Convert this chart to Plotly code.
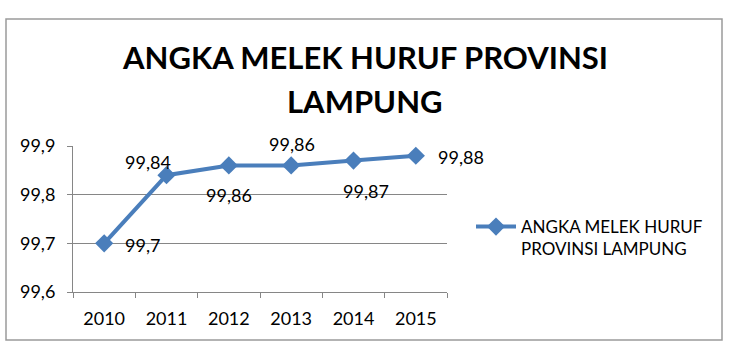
import plotly.graph_objects as go

years = ["2010", "2011", "2012", "2013", "2014", "2015"]
values = [99.70, 99.84, 99.86, 99.86, 99.87, 99.88]
labels = ["99,7", "99,84", "99,86", "99,86", "99,87", "99,88"]
series_name = "ANGKA MELEK HURUF<br>PROVINSI LAMPUNG"
title_lines = ["ANGKA MELEK HURUF PROVINSI", "LAMPUNG"]
y_ticks = [99.6, 99.7, 99.8, 99.9]

W, H = 729, 342
L, R, T, B = 73, 447, 146, 292  # plot area in pixels


def px(x, y):
    return (x - L) / (R - L), (B - y) / (B - T)


color = "#4A7EBB"
font = "Lato, Calibri, sans-serif"

fig = go.Figure()
fig.add_trace(go.Scatter(
    x=years, y=values, mode="lines+markers", name=series_name,
    line=dict(color=color, width=4),
    marker=dict(symbol="diamond", size=14, color=color),
))

# data labels (offsets in pixels relative to the point)
offsets = [(19, 2, "left"), (-19, -13, "center"), (0, 30, "center"),
           (1, -21, "center"), (12, 30, "center"), (20, 1, "left")]
for i, (v, lab, (dx, dy, anc)) in enumerate(zip(values, labels, offsets)):
    fig.add_annotation(x=i, y=v, xref="x", yref="y", text=lab, showarrow=False,
                       xanchor=anc, yanchor="middle", xshift=dx, yshift=-dy,
                       font=dict(family=font, size=18, color="#000"))

# title lines
for txt, yc in zip(title_lines, [57, 101]):
    ax, ay = px(365, yc)
    fig.add_annotation(x=ax, y=ay, xref="paper", yref="paper", text="<b>%s</b>" % txt,
                       showarrow=False, xanchor="center", yanchor="middle",
                       font=dict(family=font, size=31, color="#000"))

# outer frame
x0, y0 = px(6, 340)
x1, y1 = px(722, 19)
fig.add_shape(type="rect", xref="paper", yref="paper", x0=x0, y0=y0, x1=x1, y1=y1,
              line=dict(color="#9A9A9A", width=1.5), layer="below")

lx, ly = px(471, 209)
fig.update_layout(
    width=W, height=H,
    margin=dict(l=L, r=W - R, t=T, b=H - B, pad=0),
    paper_bgcolor="white", plot_bgcolor="white",
    separators=",.",
    showlegend=True,
    legend=dict(x=lx, y=ly, xanchor="left", yanchor="top", valign="top",
                font=dict(family=font, size=17, color="#000"),
                itemwidth=40, bgcolor="rgba(0,0,0,0)", tracegroupgap=0),
    xaxis=dict(type="category", tickson="boundaries", ticks="outside", ticklen=5,
               tickcolor="#868686", showline=True, linecolor="#868686", linewidth=1,
               showgrid=False, range=[-0.5, 5.5], ticklabelstandoff=10,
               tickfont=dict(family=font, size=18, color="#000")),
    yaxis=dict(range=[99.6, 99.9], tickvals=y_ticks, tickformat=".1f",
               ticks="outside", ticklen=5, tickcolor="#868686",
               showline=True, linecolor="#868686", linewidth=1,
               showgrid=True, gridcolor="#868686", gridwidth=1,
               zeroline=False, ticklabelstandoff=8,
               tickfont=dict(family=font, size=18, color="#000")),
)

fig.write_html("out.html")
